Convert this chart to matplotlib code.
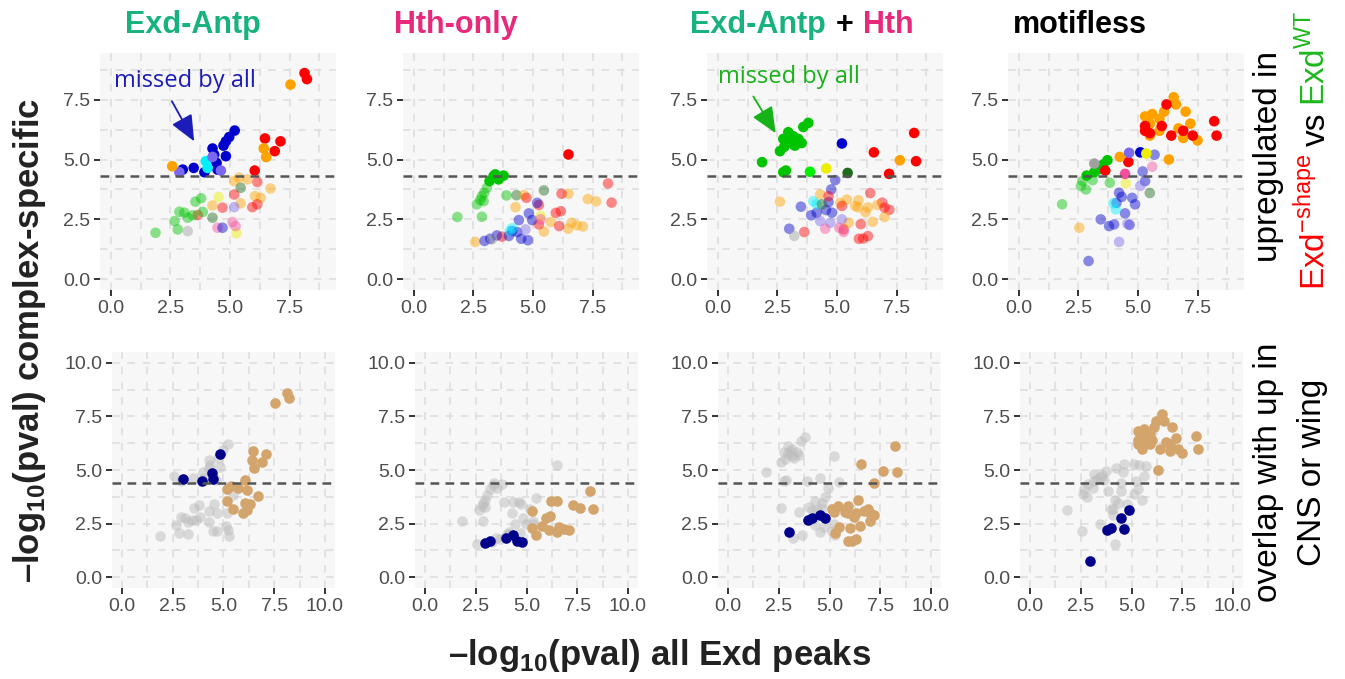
import numpy as np
import matplotlib.pyplot as plt

plt.rcParams['font.family'] = ['Liberation Sans', 'DejaVu Sans']
plt.rcParams['mathtext.fontset'] = 'custom'
plt.rcParams['mathtext.rm'] = 'Liberation Sans'
plt.rcParams['mathtext.bf'] = 'Liberation Sans:bold'

# colour codes: upper case = above cut-off (solid), lower case = faded
# bottom group: t = tan (overlap up), n = navy, g = grey
ea_x = [8.13, 8.23, 7.54, 5.20, 4.97, 4.83, 4.73, 4.27, 4.83, 4.34, 4.44, 3.48, 3.02, 3.93, 4.48,
        3.99, 4.06, 4.27, 2.88, 4.62, 2.58, 6.47, 7.12, 6.88, 6.04, 6.42, 6.52,
        5.38, 5.18, 5.73, 6.70, 6.05, 5.45, 4.27, 6.29, 6.15, 5.18, 5.94, 6.15, 4.69, 3.65,
        5.45, 4.27, 4.52, 5.27, 3.79, 3.55, 2.88, 3.09, 2.68, 2.81, 3.23, 1.88, 3.86, 3.44,
        3.23, 4.48, 5.11, 5.24, 5.18, 4.69]
ea_y = [8.61, 8.36, 8.13, 6.21, 5.94, 5.76, 5.58, 5.46, 5.14, 5.21, 4.86, 4.65, 4.58, 4.47, 4.58,
        4.93, 4.65, 5.11, 4.47, 4.54, 4.72, 5.88, 5.76, 5.35, 4.54, 5.46, 5.10,
        4.24, 4.10, 4.17, 3.79, 3.47, 3.17, 3.08, 3.40, 4.06, 3.54, 3.01, 3.13, 2.99, 2.68,
        3.82, 2.57, 3.43, 1.92, 3.38, 3.24, 2.82, 2.78, 2.43, 2.08, 2.57, 1.94, 2.81, 2.67,
        2.01, 2.15, 2.39, 2.22, 3.01, 2.15]
ea_col = ['R', 'R', 'O', 'B', 'B', 'B', 'B', 'B', 'B', 'B', 'B', 'B', 'B', 'B', 'B',
          'C', 'C', 'S', 'S', 'S', 'O', 'R', 'R', 'R', 'R', 'O', 'O',
          'o', 'o', 'o', 'o', 'o', 'o', 'o', 'o', 'r', 'r', 'r', 'r', 'r', 'r',
          'd', 'd', 'y', 'y', 'g', 'g', 'g', 'g', 'g', 'g', 'g', 'g', 'g', 'g',
          'k', 'p', 'p', 'p', 's', 'b']
ea_grp = ['t', 't', 't', 'g', 'g', 'n', 'g', 'g', 'g', 'g', 'n', 'g', 'n', 'n', 'n',
          'g', 'g', 'g', 'g', 'g', 'g', 't', 't', 't', 't', 't', 't',
          't', 't', 't', 't', 't', 't', 'g', 't', 't', 't', 't', 't', 'g', 'g',
          'g', 'g', 'g', 'g', 'g', 'g', 'g', 'g', 'g', 'g', 'g', 'g', 'g', 'g',
          'g', 'g', 'g', 'g', 'g', 'g']

hth_x = [6.49, 3.42, 3.77, 3.56, 3.18, 3.35, 3.07, 2.96, 2.86, 2.93, 2.65, 2.79, 1.83, 2.86, 3.89,
         4.31, 5.46, 4.62, 4.27, 5.75, 5.46, 6.62, 6.48, 6.49, 2.58, 4.73, 6.20, 5.25, 5.96, 6.17,
         6.10, 3.70, 5.25, 5.18, 4.83, 4.97, 4.41, 3.49, 3.99, 4.34, 4.51, 4.79, 2.97, 3.21, 4.13,
         4.13, 4.03, 3.28, 5.32, 4.69, 5.32, 7.30, 7.65, 8.15, 8.30, 6.85, 7.10]
hth_y = [5.21, 4.38, 4.33, 4.17, 4.10, 4.31, 3.82, 3.61, 3.47, 3.26, 3.13, 3.31, 2.60, 2.61, 3.50,
         3.51, 3.71, 3.51, 3.01, 2.39, 1.99, 2.36, 2.11, 3.57, 1.56, 3.40, 3.57, 3.10, 2.77, 2.84,
         2.22, 1.78, 2.29, 3.19, 2.75, 2.47, 2.47, 1.83, 1.81, 1.97, 1.69, 1.63, 1.60, 1.69, 2.01,
         2.13, 2.01, 1.66, 2.64, 2.08, 2.50, 3.35, 3.25, 4.00, 3.20, 2.25, 2.20]
hth_col = ['R', 'G', 'G', 'G', 'G', 'G', 'g', 'g', 'g', 'g', 'g', 'g', 'g', 'g', 'g',
           'd', 'd', 'o', 'o', 'o', 'o', 'o', 'o', 'o', 'o', 'r', 'r', 'r', 'r', 'r',
           'r', 'r', 'r', 'b', 'b', 'b', 'b', 'b', 'b', 'b', 'b', 'b', 'b', 'b', 'b',
           'c', 'c', 'k', 'y', 's', 'p', 'o', 'o', 'r', 'r', 'o', 'o']
hth_grp = ['g', 'g', 'g', 'g', 'g', 'g', 'g', 'g', 'g', 'g', 'g', 'g', 'g', 'g', 'g',
           'g', 'g', 'g', 'g', 't', 't', 't', 't', 't', 'g', 'g', 't', 't', 't', 't',
           't', 'g', 't', 'g', 'g', 'g', 'g', 'g', 'n', 'n', 'n', 'n', 'n', 'n', 'g',
           'g', 'g', 'g', 'g', 'g', 'g', 't', 't', 't', 't', 't', 't']

both_x = [3.80, 3.59, 2.96, 3.17, 2.75, 3.38, 2.96, 3.52, 3.17, 2.79, 2.61, 3.24, 3.03,
          1.86, 2.75, 2.86, 3.87, 5.21, 4.55, 5.45, 8.24, 8.32, 7.19, 6.55, 7.64,
          4.93, 4.76, 3.49, 3.92, 4.15, 4.54, 4.79, 3.00, 4.65, 4.01, 4.15,
          2.61, 4.30, 5.14, 5.42, 5.77, 5.49, 4.65, 5.21, 3.63, 5.92, 5.28,
          4.30, 4.72, 5.21, 4.51, 5.28, 5.10, 3.21, 4.37,
          6.40, 6.90, 6.30, 6.70, 6.20, 6.50, 6.10, 6.30, 7.20, 7.00, 5.90, 6.00, 7.00, 5.89]
both_y = [6.53, 6.36, 6.14, 5.97, 5.86, 5.86, 5.76, 5.69, 5.63, 5.53, 5.35, 5.58, 5.89,
          4.89, 4.47, 4.54, 4.49, 5.67, 4.63, 4.44, 6.11, 4.93, 4.40, 5.30, 4.97,
          4.14, 3.75, 3.03, 2.67, 2.78, 2.89, 2.78, 2.11, 3.22, 3.26, 3.13,
          3.24, 3.54, 3.19, 3.33, 3.06, 2.36, 3.47, 3.06, 1.97, 1.69, 2.08,
          2.43, 2.36, 2.50, 2.11, 1.97, 2.15, 1.81, 3.13,
          3.60, 3.20, 3.00, 3.10, 2.80, 2.40, 1.70, 1.80, 2.90, 2.60, 3.30, 2.30, 2.99, 3.00]
both_col = ['G', 'G', 'G', 'G', 'G', 'G', 'G', 'G', 'G', 'G', 'G', 'G', 'G',
            'G', 'G', 'G', 'L', 'B', 'Y', 'D', 'R', 'R', 'R', 'R', 'O',
            'b', 'b', 'b', 'b', 'b', 'b', 'b', 'b', 'b', 'c', 'c',
            'o', 'o', 'o', 'o', 'o', 'o', 'r', 'r', 'r', 'r', 'r',
            's', 's', 's', 'p', 'p', 'p', 'k', 'd',
            'r', 'r', 'o', 'o', 'o', 'o', 'r', 'r', 'r', 'o', 'o', 'r', 'r', 'o']
both_grp = ['g', 'g', 'g', 'g', 'g', 'g', 'g', 'g', 'g', 'g', 'g', 'g', 'g',
            'g', 'g', 'g', 'g', 'g', 'g', 'g', 't', 't', 't', 't', 't',
            'g', 'g', 'g', 'n', 'n', 'n', 'n', 'n', 'g', 'g', 'g',
            'g', 'g', 't', 't', 't', 't', 'g', 't', 'g', 't', 't',
            'g', 'g', 'g', 'g', 'g', 'g', 'g', 'g',
            't', 't', 't', 't', 't', 't', 't', 't', 't', 't', 't', 't', 't', 't']

mless_x = [2.85, 3.17, 3.44, 3.72, 3.54, 3.31, 3.17, 3.63, 4.60, 4.24, 4.63, 4.46,
           2.68, 2.61, 2.82, 3.10, 3.82, 1.82, 4.49, 2.54,
           4.21, 4.32, 4.10, 4.76, 4.88, 4.46, 3.44, 3.79, 4.00, 4.65, 2.93,
           3.97, 4.07, 4.21, 4.56,
           5.30, 5.50, 5.60, 5.90, 6.10, 6.50, 6.60, 5.90, 6.70, 7.20, 7.50, 6.90, 5.50, 7.00,
           6.20, 5.50, 5.30, 6.00, 6.40, 6.90, 7.30, 8.20, 8.30, 5.30, 6.30,
           5.10, 5.35, 5.20, 5.30, 5.60, 5.10, 5.70, 5.50]
mless_y = [4.33, 4.47, 4.68, 4.97, 4.79, 4.58, 4.83, 4.54, 4.90, 5.11, 5.28, 4.40,
           4.10, 3.89, 3.75, 4.14, 4.03, 3.13, 4.00, 2.15,
           3.61, 3.44, 3.19, 3.40, 3.13, 2.75, 2.50, 2.22, 2.29, 2.27, 0.76,
           3.17, 2.92, 1.56, 2.32,
           6.80, 6.50, 6.90, 6.70, 7.00, 7.60, 7.30, 6.20, 6.30, 6.50, 5.80, 5.90, 6.00, 7.00,
           7.30, 6.10, 6.40, 6.40, 6.00, 6.20, 6.00, 6.60, 6.00, 6.20, 5.00,
           5.30, 5.25, 4.50, 4.10, 4.70, 3.90, 5.20, 3.60]
mless_col = ['G', 'G', 'G', 'G', 'G', 'G', 'K', 'R', 'R', 'O', 'S', 'P',
             'g', 'g', 'g', 'g', 'g', 'g', 'y', 'o',
             'b', 'b', 'b', 'b', 'b', 'b', 'b', 'b', 'b', 'b', 'b',
             'c', 'c', 's', 's',
             'O', 'O', 'O', 'O', 'O', 'O', 'O', 'O', 'O', 'O', 'O', 'O', 'O', 'O',
             'R', 'R', 'R', 'R', 'R', 'R', 'R', 'R', 'R', 'R', 'O',
             'B', 'Y', 'b', 'b', 'p', 's', 'b', 'd']
mless_grp = ['g', 'g', 'g', 'g', 'g', 'g', 'g', 'g', 'g', 'g', 'g', 'g',
             'g', 'g', 'g', 'g', 'g', 'g', 'g', 'g',
             'g', 'g', 'g', 'g', 'n', 'n', 'g', 'n', 'n', 'n', 'n',
             'g', 'g', 'g', 'g',
             't', 't', 't', 't', 't', 't', 't', 't', 't', 't', 't', 't', 't', 't',
             't', 't', 't', 't', 't', 't', 't', 't', 't', 't', 't',
             'g', 'g', 'g', 'g', 'g', 'g', 'g', 'g']

cutoff_top = 4.3
cutoff_bot = 4.38

top_pal = {'r': '#FF0000', 'o': '#FFA200', 'b': '#0000CD', 'c': '#00F0FF', 's': '#7B68EE',
           'g': '#00C400', 'd': '#1E6B1E', 'y': '#EEEE00', 'p': '#F2509E', 'k': '#A0A0A0',
           'l': '#00F000'}
bot_pal = {'t': '#D3A46C', 'n': '#00008B', 'g': '#BDBDBD'}
GREEN = '#17B27D'
PINK = '#E8287B'

W, H = 1345, 679
fig = plt.figure(figsize=(13.45, 6.79), dpi=100)

top_left = [100, 403, 707, 1008]
bot_left = [112, 415, 718, 1020]


def style(ax, lim, ticks):
    ax.set_facecolor('#F7F7F7')
    ax.set_xlim(lim)
    ax.set_ylim(lim)
    ax.set_xticks(ticks)
    ax.set_yticks(ticks)
    ax.set_xticklabels([f'{t:.1f}' for t in ticks])
    ax.set_yticklabels([f'{t:.1f}' for t in ticks])
    minor = np.arange(1.25, lim[1], 2.5)
    ax.set_xticks(minor, minor=True)
    ax.set_yticks(minor, minor=True)
    ax.tick_params(which='minor', length=0)
    ax.tick_params(which='major', length=4, width=1.4, color='#333333',
                   labelsize=14, labelcolor='#4D4D4D', pad=3)
    ax.grid(which='both', color='#DCDCDC', lw=1.1, ls=(0, (5, 5)))
    for s in ax.spines.values():
        s.set_visible(False)
    ax.set_axisbelow(True)


panels = [(ea_x, ea_y, ea_col, ea_grp), (hth_x, hth_y, hth_col, hth_grp),
          (both_x, both_y, both_col, both_grp), (mless_x, mless_y, mless_col, mless_grp)]

top_axes = []
for i, (x, y, col, grp) in enumerate(panels):
    ax = fig.add_axes([top_left[i] / W, 1 - 290 / H, 236 / W, 237 / H])
    style(ax, (-0.45, 9.45), [0, 2.5, 5, 7.5])
    x = np.array(x)
    y = np.array(y)
    faded = np.array([c.islower() for c in col])
    cols = np.array([top_pal[c.lower()] for c in col])
    ax.scatter(x[faded], y[faded], s=58, c=cols[faded], alpha=0.45, lw=0, zorder=2)
    ax.scatter(x[~faded], y[~faded], s=58, c=cols[~faded], lw=0, zorder=3)
    ax.axhline(cutoff_top, color='#555555', lw=1.8, ls=(0, (3.5, 2.5)), zorder=4)
    top_axes.append(ax)

    bx = fig.add_axes([bot_left[i] / W, 1 - 588 / H, 223 / W, 236 / H])
    style(bx, (-0.5, 10.5), [0, 2.5, 5, 7.5, 10])
    grp = np.array(grp)
    for g in ['g', 'n', 't']:
        m = grp == g
        bx.scatter(x[m], y[m], s=58, c=bot_pal[g], alpha=0.5 if g == 'g' else 1,
                   lw=0, zorder=2 if g == 'g' else 3)
    bx.axhline(cutoff_bot, color='#555555', lw=1.8, ls=(0, (3.5, 2.5)), zorder=4)

# annotations
top_axes[0].annotate('missed by all', xy=(3.5, 5.76), xytext=(3.1, 8.26),
                     fontsize=17, color='#1C1CB8', ha='center', va='center',
                     family='Open Sans',
                     arrowprops=dict(arrowstyle='-|>,head_length=0.8,head_width=0.35',
                                     color='#1C1CB8', lw=1.3, relpos=(0.38, 0),
                                     shrinkA=4, shrinkB=0, mutation_scale=20))
top_axes[2].annotate('missed by all', xy=(2.43, 6.1), xytext=(2.97, 8.45),
                     fontsize=17, color='#17B217', ha='center', va='center',
                     family='Open Sans',
                     arrowprops=dict(arrowstyle='-|>,head_length=0.8,head_width=0.35',
                                     color='#17B217', lw=1.3, relpos=(0.22, 0),
                                     shrinkA=4, shrinkB=0, mutation_scale=20))

# titles
tkw = dict(fontsize=22, fontweight='bold', va='baseline')
ty = 1 - 33 / H
fig.text(193 / W, ty, 'Exd-Antp', color=GREEN, ha='center', **tkw)
fig.text(456 / W, ty, 'Hth-only', color=PINK, ha='center', **tkw)
fig.text(1080 / W, ty, 'motifless', color='black', ha='center', **tkw)
t1 = fig.text(690 / W, ty, 'Exd-Antp', color=GREEN, ha='left', **tkw)
t2 = top_axes[3].annotate('+', xy=(1, 0), xycoords=t1, xytext=(7, 0), textcoords='offset points',
                          color='black', fontsize=22, fontweight='bold', va='bottom', ha='left')
t3 = top_axes[3].annotate('Hth', xy=(1, 0), xycoords=t2, xytext=(7, 0), textcoords='offset points',
                          color=PINK, fontsize=22, fontweight='bold', va='bottom', ha='left')

# axis labels
fig.text(30 / W, 1 - 340 / H, '–log$_\\mathbf{10}$(pval) complex-specific', rotation=90,
         fontsize=25, fontweight='bold', color='#222222', ha='center', va='center')
fig.text(660 / W, 1 - 655 / H, '–log$_\\mathbf{10}$(pval) all Exd peaks',
         fontsize=25, fontweight='bold', color='#222222', ha='center', va='center')

# right side labels
rfs = 24
top_c = 1 - 156 / H
line2_c = 1 - 150 / H
bot_c = 1 - 472 / H
fig.text(1268 / W, top_c, 'upregulated in', rotation=90, fontsize=rfs, ha='center', va='center')
fig.text(1268 / W, bot_c, 'overlap with up in', rotation=90, fontsize=rfs, ha='center', va='center')
fig.text(1312 / W, bot_c, 'CNS or wing', rotation=90, fontsize=rfs, ha='center', va='center')

r1 = fig.text(1332 / W, 0.6, 'Exd$^{\\mathrm{-shape}}$', rotation=90, fontsize=rfs, color='red',
              ha='right', va='bottom')
r2 = top_axes[3].annotate('vs', xy=(1, 1), xycoords=r1, xytext=(0, 5), textcoords='offset points',
                          rotation=90, fontsize=rfs, ha='right', va='bottom')
r3 = top_axes[3].annotate('Exd$^{\\mathrm{WT}}$', xy=(1, 1), xycoords=r2, xytext=(0, 5),
                          textcoords='offset points', rotation=90, fontsize=rfs, color='#1DB81D',
                          ha='right', va='bottom')
fig.canvas.draw()
rend = fig.canvas.get_renderer()
b1 = r1.get_window_extent(rend)
b3 = r3.get_window_extent(rend)
mid = (b1.y0 + b3.y1) / 2
shift = line2_c * fig.bbox.height - mid
r1.set_y(0.6 + shift / fig.bbox.height)

fig.savefig('out.png', dpi=100)
